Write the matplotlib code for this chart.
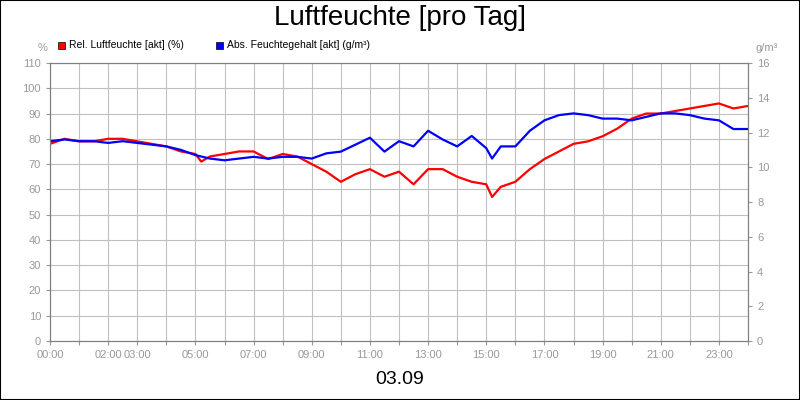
import matplotlib
matplotlib.use("Agg")
import matplotlib.pyplot as plt
from matplotlib.patches import Rectangle
plt.rcParams['font.family'] = ['Liberation Sans', 'DejaVu Sans']

hours_rel = [0,0.5,1,1.5,2,2.5,3,3.5,4,4.5,5,5.2,5.5,6,6.5,7,7.5,8,8.5,9,9.5,10,10.5,11,11.5,12,12.5,13,13.5,14,14.5,15,15.2,15.5,16,16.5,17,17.5,18,18.5,19,19.5,20,20.5,21,21.5,22,22.5,23,23.5,24]
rel = [78,80,79,79,80,80,79,78,77,75,74,71,73,74,75,75,72,74,73,70,67,63,66,68,65,67,62,68,68,65,63,62,57,61,63,68,72,75,78,79,81,84,88,90,90,91,92,93,94,92,93]
hours_abs = [0,0.5,1,1.5,2,2.5,3,3.5,4,4.5,5,5.5,6,6.5,7,7.5,8,8.5,9,9.5,10,10.5,11,11.5,12,12.5,13,13.5,14,14.5,15,15.2,15.5,16,16.5,17,17.5,18,18.5,19,19.5,20,20.5,21,21.5,22,22.5,23,23.5,24]
absg = [11.5,11.6,11.5,11.5,11.4,11.5,11.4,11.3,11.2,11.0,10.7,10.5,10.4,10.5,10.6,10.5,10.6,10.6,10.5,10.8,10.9,11.3,11.7,10.9,11.5,11.2,12.1,11.6,11.2,11.8,11.1,10.5,11.2,11.2,12.1,12.7,13.0,13.1,13.0,12.8,12.8,12.7,12.9,13.1,13.1,13.0,12.8,12.7,12.2,12.2]
tick_hours = [0,2,3,5,7,9,11,13,15,17,19,21,23]
tick_labels = ["00:00","02:00","03:00","05:00","07:00","09:00","11:00","13:00","15:00","17:00","19:00","21:00","23:00"]

fig = plt.figure(figsize=(8,4), dpi=100)
fig.patches.append(Rectangle((0,0),1,1,transform=fig.transFigure,fill=False,edgecolor='black',lw=1.5))
ax = fig.add_axes([0.0625,0.1475,0.8725,0.695])
ax.plot(hours_rel, rel, color='#ff0000', lw=1.6)
ax.set_xlim(0,24); ax.set_ylim(0,110)
ax.set_yticks(range(0,111,10))
ax.set_xticks(range(0,25), minor=False)
ax.set_xticklabels([tick_labels[tick_hours.index(h)] if h in tick_hours else "" for h in range(25)])
ax.grid(True, color='#c0c0c0', lw=0.8)
ax.tick_params(colors='#999999', labelsize=8, length=3)
ax2 = ax.twinx()
ax2.plot(hours_abs, absg, color='#0000ff', lw=1.6)
ax2.set_ylim(0,16); ax2.set_yticks(range(0,17,2))
ax2.tick_params(colors='#999999', labelsize=8, length=3)
for a in (ax, ax2):
    for s in a.spines.values(): s.set_color('#808080')
fig.text(0.5,0.955,"Luftfeuchte [pro Tag]",ha='center',va='center',fontsize=20)
fig.text(0.053,0.88,"%",ha='center',va='center',fontsize=8,color='#999999')
fig.text(0.958,0.88,"g/m³",ha='center',va='center',fontsize=8,color='#999999')
fig.patches.append(Rectangle((0.072,0.878),0.009,0.018,transform=fig.transFigure,color='#ff0000',ec='black',lw=0.5))
fig.text(0.086,0.887,"Rel. Luftfeuchte [akt] (%)",va='center',fontsize=7.5)
fig.patches.append(Rectangle((0.27,0.878),0.009,0.018,transform=fig.transFigure,color='#0000ff',ec='black',lw=0.5))
fig.text(0.284,0.887,"Abs. Feuchtegehalt [akt] (g/m³)",va='center',fontsize=7.5)
fig.text(0.5,0.05,"03.09",ha='center',va='center',fontsize=14)
fig.savefig("out.png", dpi=100)
